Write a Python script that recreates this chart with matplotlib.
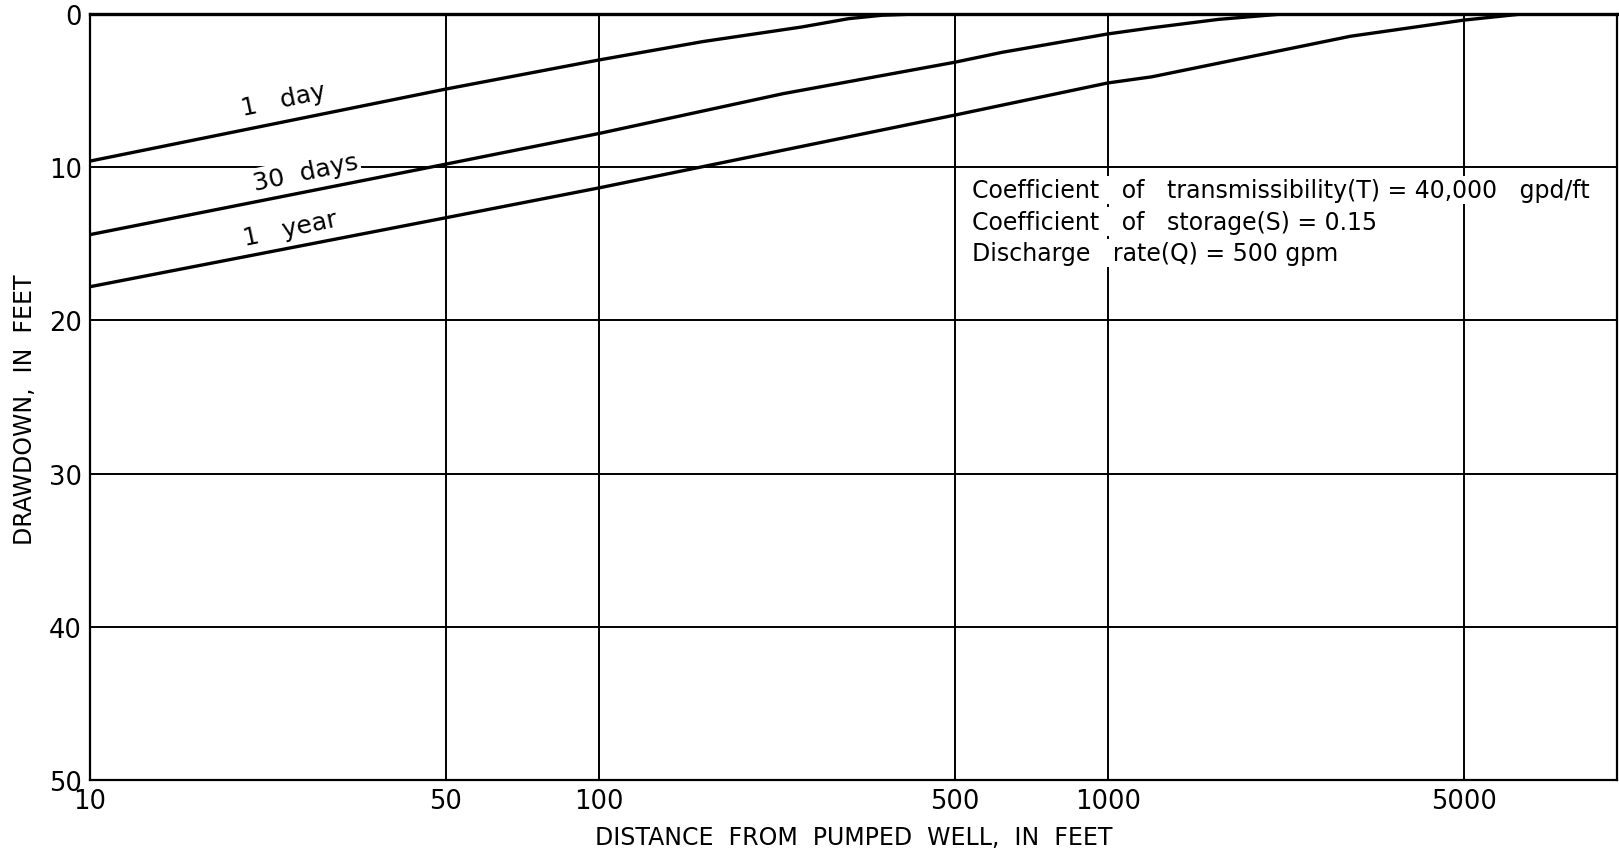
import matplotlib
matplotlib.use("Agg")
import matplotlib.pyplot as plt

# distance from pumped well (ft) and drawdown (ft)
DISTANCE_1_DAY = [10, 50, 100, 160, 250, 310, 360, 420]
DRAWDOWN_1_DAY = [9.6, 4.9, 3.0, 1.8, 0.85, 0.3, 0.08, 0.0]

DISTANCE_30_DAYS = [10, 50, 100, 230, 500, 620, 1000, 1220, 1650, 2200]
DRAWDOWN_30_DAYS = [14.4, 9.8, 7.8, 5.2, 3.15, 2.5, 1.3, 0.9, 0.35, 0.0]

DISTANCE_1_YEAR = [10, 50, 100, 500, 1000, 1220, 3000, 5000, 6500]
DRAWDOWN_1_YEAR = [17.8, 13.3, 11.35, 6.6, 4.5, 4.1, 1.45, 0.4, 0.0]

X_TICKS = [10, 50, 100, 500, 1000, 5000]
X_TICK_LABELS = ["10", "50", "100", "500", "1000", "5000"]
Y_TICKS = [0, 10, 20, 30, 40, 50]

NOTES = [
    "Coefficient   of   transmissibility(T) = 40,000   gpd/ft",
    "Coefficient   of   storage(S) = 0.15",
    "Discharge   rate(Q) = 500 gpm",
]


def main():
    plt.rcParams["font.family"] = ["DejaVu Sans"]
    fig = plt.figure(figsize=(16.19, 8.53), dpi=100)
    ax = fig.add_axes([0.0556, 0.0844, 0.943, 0.898])

    line_style = dict(color="black", linewidth=2.4, solid_capstyle="round", zorder=4)
    ax.plot(DISTANCE_1_DAY, DRAWDOWN_1_DAY, **line_style)
    ax.plot(DISTANCE_30_DAYS, DRAWDOWN_30_DAYS, **line_style)
    ax.plot(DISTANCE_1_YEAR, DRAWDOWN_1_YEAR, **line_style)

    ax.set_xscale("log")
    ax.set_xlim(10, 10000)
    ax.set_ylim(50, 0)

    ax.set_xticks(X_TICKS)
    ax.set_xticklabels(X_TICK_LABELS)
    ax.xaxis.set_minor_locator(matplotlib.ticker.NullLocator())
    ax.set_yticks(Y_TICKS)
    ax.tick_params(length=0, labelsize=18.5, pad=6)

    ax.set_axisbelow(True)
    ax.grid(True, color="black", linewidth=1.4)

    for side in ["left", "right", "bottom"]:
        ax.spines[side].set_linewidth(1.6)
    ax.spines["top"].set_linewidth(2.4)

    ax.set_xlabel("DISTANCE  FROM  PUMPED  WELL,  IN  FEET", fontsize=17, labelpad=8)
    ax.set_ylabel("DRAWDOWN,  IN  FEET", fontsize=17)
    ax.yaxis.set_label_coords(-0.035, 0.485)

    box = dict(facecolor="white", edgecolor="none", pad=1.5)
    ax.text(24, 5.6, "1   day", fontsize=18, rotation=12,
            ha="center", va="center", bbox=box, zorder=3)
    ax.text(26.5, 10.3, "30  days", fontsize=18, rotation=12,
            ha="center", va="center", bbox=box, zorder=3)
    ax.text(24.8, 14.0, "1   year", fontsize=18, rotation=12,
            ha="center", va="center", bbox=box, zorder=3)

    for i, note in enumerate(NOTES):
        ax.text(540, 11.5 + 2.05 * i, note, fontsize=17,
                ha="left", va="center", bbox=box, zorder=3)

    fig.savefig("out.png", dpi=100)
    plt.close(fig)


if __name__ == "__main__":
    main()
